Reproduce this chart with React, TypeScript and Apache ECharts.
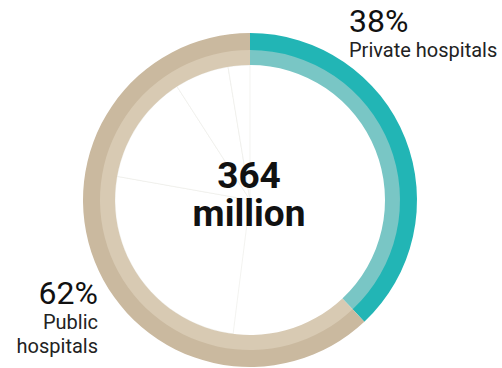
import React, { useEffect, useRef } from "react";
import * as echarts from "echarts";

// Data
const categories = ["Private hospitals", "Public hospitals"];
const shares = [38, 62]; // percent
const totalLabel = ["364", "million"];
// faint sub-divisions of the public share (percent of whole), clockwise after the private share
const publicSubShares = [14.0, 25.8, 13.1, 6.5, 2.6];

const DARK = ["#22b5b5", "#cab99f"];
const LIGHT = ["#79c6c5", "#d8cab3"];

export default function App() {
  const ref = useRef<HTMLDivElement>(null);
  useEffect(() => {
    if (!ref.current) return;
    const chart = echarts.init(ref.current, undefined, { renderer: "svg" });
    const center = [250, 200];
    const innerData = [
      {
        name: "priv",
        value: shares[0],
        itemStyle: { color: "#ffffff", borderWidth: 0 },
      },
      ...publicSubShares.map((v, i) => ({
        name: "pub" + i,
        value: v,
        itemStyle: {
          color: "#ffffff",
          borderColor: "#ebebe6",
          borderWidth: i === 0 ? 0 : 0.6,
        },
      })),
    ];
    const txt = (x: number, y: number, text: string, font: string, align: string, fill = "#111", lineHeight?: number) => ({
      type: "text",
      x,
      y,
      z: 100,
      style: { text, font, fill, align, verticalAlign: "middle", lineHeight },
    });
    chart.setOption({
      animation: false,
      series: [
        {
          type: "pie",
          silent: true,
          center,
          radius: [0, 135],
          startAngle: 90,
          clockwise: true,
          label: { show: false },
          labelLine: { show: false },
          data: innerData,
          z: 1,
        },
        {
          type: "pie",
          silent: true,
          center,
          radius: [135, 151],
          startAngle: 90,
          clockwise: true,
          label: { show: false },
          labelLine: { show: false },
          data: categories.map((c, i) => ({
            name: c,
            value: shares[i],
            itemStyle: { color: LIGHT[i], borderWidth: 0 },
          })),
          z: 2,
        },
        {
          type: "pie",
          silent: true,
          center,
          radius: [150, 167],
          startAngle: 90,
          clockwise: true,
          label: { show: false },
          labelLine: { show: false },
          data: categories.map((c, i) => ({
            name: c,
            value: shares[i],
            itemStyle: { color: DARK[i], borderWidth: 0 },
          })),
          z: 3,
        },
      ],
      graphic: [
        txt(249, 194, totalLabel.join("\n"), "bold 37px Roboto", "center", "#111", 38),
        txt(349, 21, shares[0] + "%", "32px Roboto", "left"),
        txt(349, 50, categories[0], "20px Roboto", "left", "#222"),
        txt(98, 293, shares[1] + "%", "32px Roboto", "right"),
        txt(98, 334, categories[1].split(" ").join("\n"), "20px Roboto", "right", "#222", 23.5),
      ],
    });
    return () => chart.dispose();
  }, []);
  return (
    <div
      ref={ref}
      style={{ position: "fixed", left: 0, top: 0, width: 502, height: 368, background: "#fff" }}
    />
  );
}
